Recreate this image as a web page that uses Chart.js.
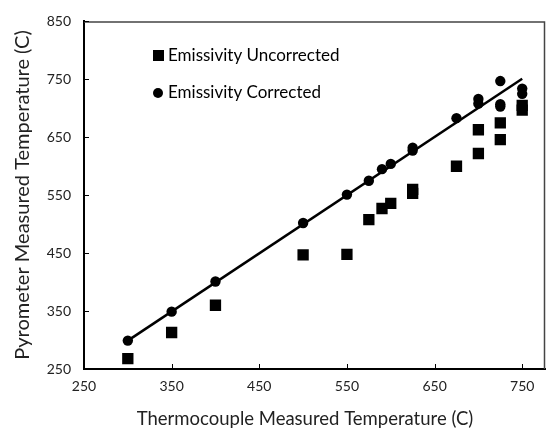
<!DOCTYPE html>
<html>
<head>
<meta charset="utf-8">
<script src="https://cdn.jsdelivr.net/npm/chart.js@4.4.0/dist/chart.umd.min.js"></script>
<style>
html,body{margin:0;padding:0;background:#fff;}
#wrap{position:relative;width:553px;height:430px;}
</style>
</head>
<body>
<div id="wrap"><canvas id="c" width="553" height="430"></canvas></div>
<script>
// Data
const uncorrectedX = [300, 350, 400, 500, 550, 575, 590, 600, 625, 625, 675, 700, 700, 725, 725, 750, 750];
const uncorrectedY = [268, 313, 360, 447, 448, 508, 527, 536, 560, 553, 600, 663, 622, 675, 646, 705, 697];
const correctedX = [300, 350, 400, 500, 550, 575, 590, 600, 625, 625, 675, 700, 700, 725, 725, 725, 750, 750];
const correctedY = [299, 349, 401, 502, 551, 575, 595, 604, 632, 627, 683, 716, 708, 747, 707, 703, 734, 725];
const fitX = [300, 750];
const fitY = [299, 751];
const xTicks = [250, 350, 450, 550, 650, 750];
const yTicks = [250, 350, 450, 550, 650, 750, 850];
const seriesNames = ['Emissivity Uncorrected', 'Emissivity Corrected'];
const xTitle = 'Thermocouple Measured Temperature (C)';
const yTitle = 'Pyrometer Measured Temperature (C)';

const FONT = 'Lato, "Open Sans", sans-serif';

const toPts = (xs, ys) => xs.map((x, i) => ({x: x, y: ys[i]}));

const framePlugin = {
  id: 'frame',
  afterDraw(chart) {
    const ctx = chart.ctx, a = chart.chartArea;
    const xs = chart.scales.x, ys = chart.scales.y;
    ctx.save();
    // top and right border
    ctx.strokeStyle = '#444';
    ctx.lineWidth = 1.5;
    ctx.beginPath();
    ctx.moveTo(a.left, a.top + 0.5);
    ctx.lineTo(a.right - 0.5, a.top + 0.5);
    ctx.lineTo(a.right - 0.5, a.bottom);
    ctx.stroke();
    // inner ticks
    ctx.strokeStyle = '#000';
    ctx.lineWidth = 1;
    ctx.beginPath();
    xTicks.forEach(v => {
      const px = Math.round(xs.getPixelForValue(v)) + 0.5;
      ctx.moveTo(px, a.bottom);
      ctx.lineTo(px, a.bottom - 5);
    });
    yTicks.forEach(v => {
      const py = Math.round(ys.getPixelForValue(v)) + 0.5;
      ctx.moveTo(a.left, py);
      ctx.lineTo(a.left + 5, py);
    });
    ctx.stroke();
    // legend
    ctx.fillStyle = '#000';
    ctx.font = '17px ' + FONT;
    ctx.textBaseline = 'middle';
    ctx.textAlign = 'left';
    ctx.fillRect(153, 50, 11, 11);
    ctx.fillText(seriesNames[0], 168, 56);
    ctx.beginPath();
    ctx.arc(158, 93, 5, 0, Math.PI * 2);
    ctx.fill();
    ctx.fillText(seriesNames[1], 168, 93);
    // axis titles
    ctx.fillStyle = '#222';
    ctx.textAlign = 'center';
    ctx.font = '18.5px ' + FONT;
    ctx.fillText(xTitle, 305, 419);
    ctx.save();
    ctx.translate(23, 195);
    ctx.rotate(-Math.PI / 2);
    ctx.font = '20px ' + FONT;
    ctx.fillText(yTitle, 0, 0);
    ctx.restore();
    ctx.restore();
  }
};

new Chart(document.getElementById('c'), {
  type: 'scatter',
  data: {
    datasets: [
      {
        label: 'Fit',
        data: toPts(fitX, fitY),
        showLine: true,
        borderColor: '#000',
        borderWidth: 2.5,
        pointRadius: 0,
        fill: false,
        order: 3
      },
      {
        label: seriesNames[0],
        data: toPts(uncorrectedX, uncorrectedY),
        pointStyle: 'rect',
        pointRadius: 8,
        backgroundColor: '#000',
        borderColor: '#000',
        borderWidth: 0,
        order: 2
      },
      {
        label: seriesNames[1],
        data: toPts(correctedX, correctedY),
        pointStyle: 'circle',
        pointRadius: 5.2,
        backgroundColor: '#000',
        borderColor: '#000',
        borderWidth: 0,
        order: 1
      }
    ]
  },
  options: {
    responsive: false,
    animation: false,
    events: [],
    layout: {padding: {left: 0, right: 3, top: 19, bottom: 0}},
    plugins: {legend: {display: false}, tooltip: {enabled: false}},
    scales: {
      x: {
        type: 'linear', min: 250, max: 776,
        afterBuildTicks: s => { s.ticks = xTicks.map(v => ({value: v})); },
        afterFit: s => { s.height = 61; },
        grid: {display: true, drawOnChartArea: false, drawTicks: false},
        border: {display: true, color: '#000', width: 2},
        ticks: {color: '#222', font: {family: FONT, size: 14}, padding: 9, maxRotation: 0},
        title: {display: false}
      },
      y: {
        type: 'linear', min: 250, max: 850,
        afterBuildTicks: s => { s.ticks = yTicks.map(v => ({value: v})); },
        afterFit: s => { s.width = 84; },
        grid: {display: true, drawOnChartArea: false, drawTicks: false},
        border: {display: true, color: '#000', width: 2},
        ticks: {color: '#222', font: {family: FONT, size: 14}, padding: 13},
        title: {display: false}
      }
    }
  },
  plugins: [framePlugin]
});
</script>
</body>
</html>
